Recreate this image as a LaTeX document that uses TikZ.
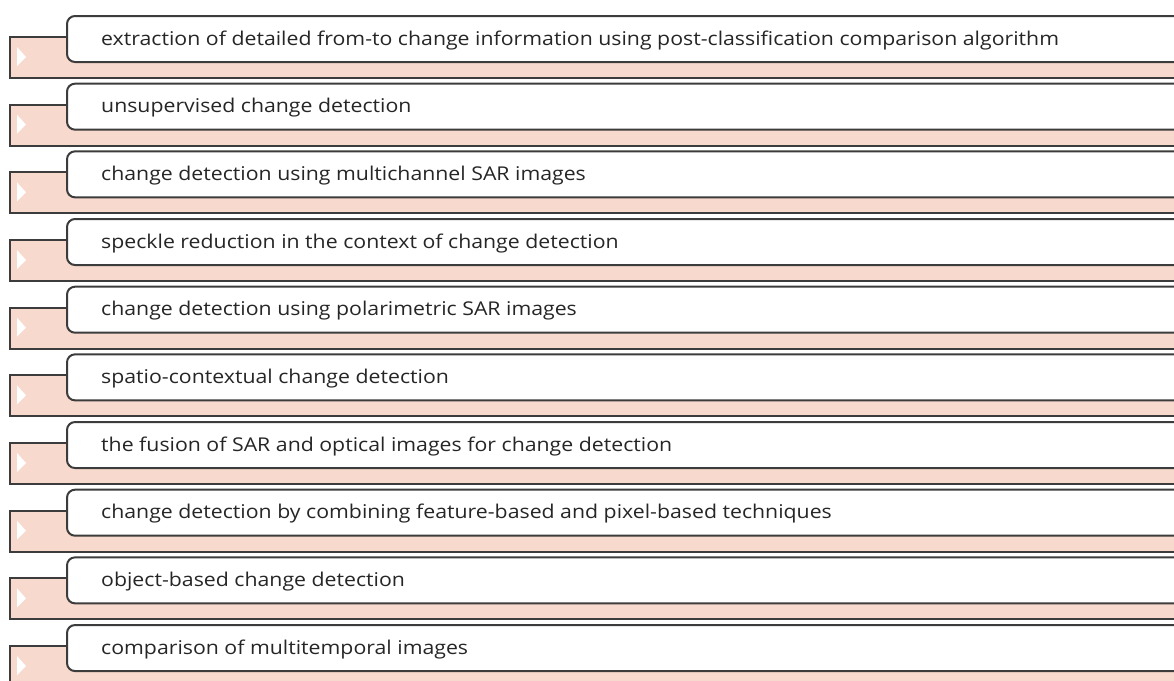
\documentclass[tikz,border=0pt]{standalone}
\usepackage{fontspec}
\setmainfont{Open Sans}[FakeStretch=1.12]
\definecolor{pinkbg}{HTML}{F8D9CE}
\definecolor{edgegray}{HTML}{3C3C3C}
\begin{document}
\begin{tikzpicture}[x=1pt,y=-1pt,
  pinkbar/.style={draw=edgegray,line width=2pt,fill=pinkbg,anchor=north west,minimum width=1180pt,minimum height=41pt,inner sep=0pt},
  itembox/.style={draw=edgegray,line width=2pt,fill=white,rounded corners=8pt,anchor=north west,minimum width=1120pt,minimum height=46pt,inner sep=0pt},
  itemtext/.style={anchor=base west,font=\fontsize{19}{22}\selectfont,text=black!85,inner sep=0pt},
  chev/.style={fill=white,draw=none}]
\useasboundingbox (0,0) rectangle (1174,680);
\clip (0,0) rectangle (1174,680);
\foreach \t [count=\i from 0] in {
  {extraction of detailed from-to change information using post-classification comparison algorithm},
  {unsupervised change detection},
  {change detection using multichannel SAR images},
  {speckle reduction in the context of change detection},
  {change detection using polarimetric SAR images},
  {spatio-contextual change detection},
  {the fusion of SAR and optical images for change detection},
  {change detection by combining feature-based and pixel-based techniques},
  {object-based change detection},
  {comparison of multitemporal images}}{
  \pgfmathsetmacro{\yy}{15+67.67*\i}
  \node[pinkbar] (pink\i) at (9,\yy+21) {};
  \fill[chev] (17,\yy+32) -- (26,\yy+42) -- (17,\yy+51) -- cycle;
  \node[itembox] (box\i) at (66,\yy) {};
  \node[itemtext] (txt\i) at (101,\yy+30) {\t};
}
\end{tikzpicture}
\end{document}
